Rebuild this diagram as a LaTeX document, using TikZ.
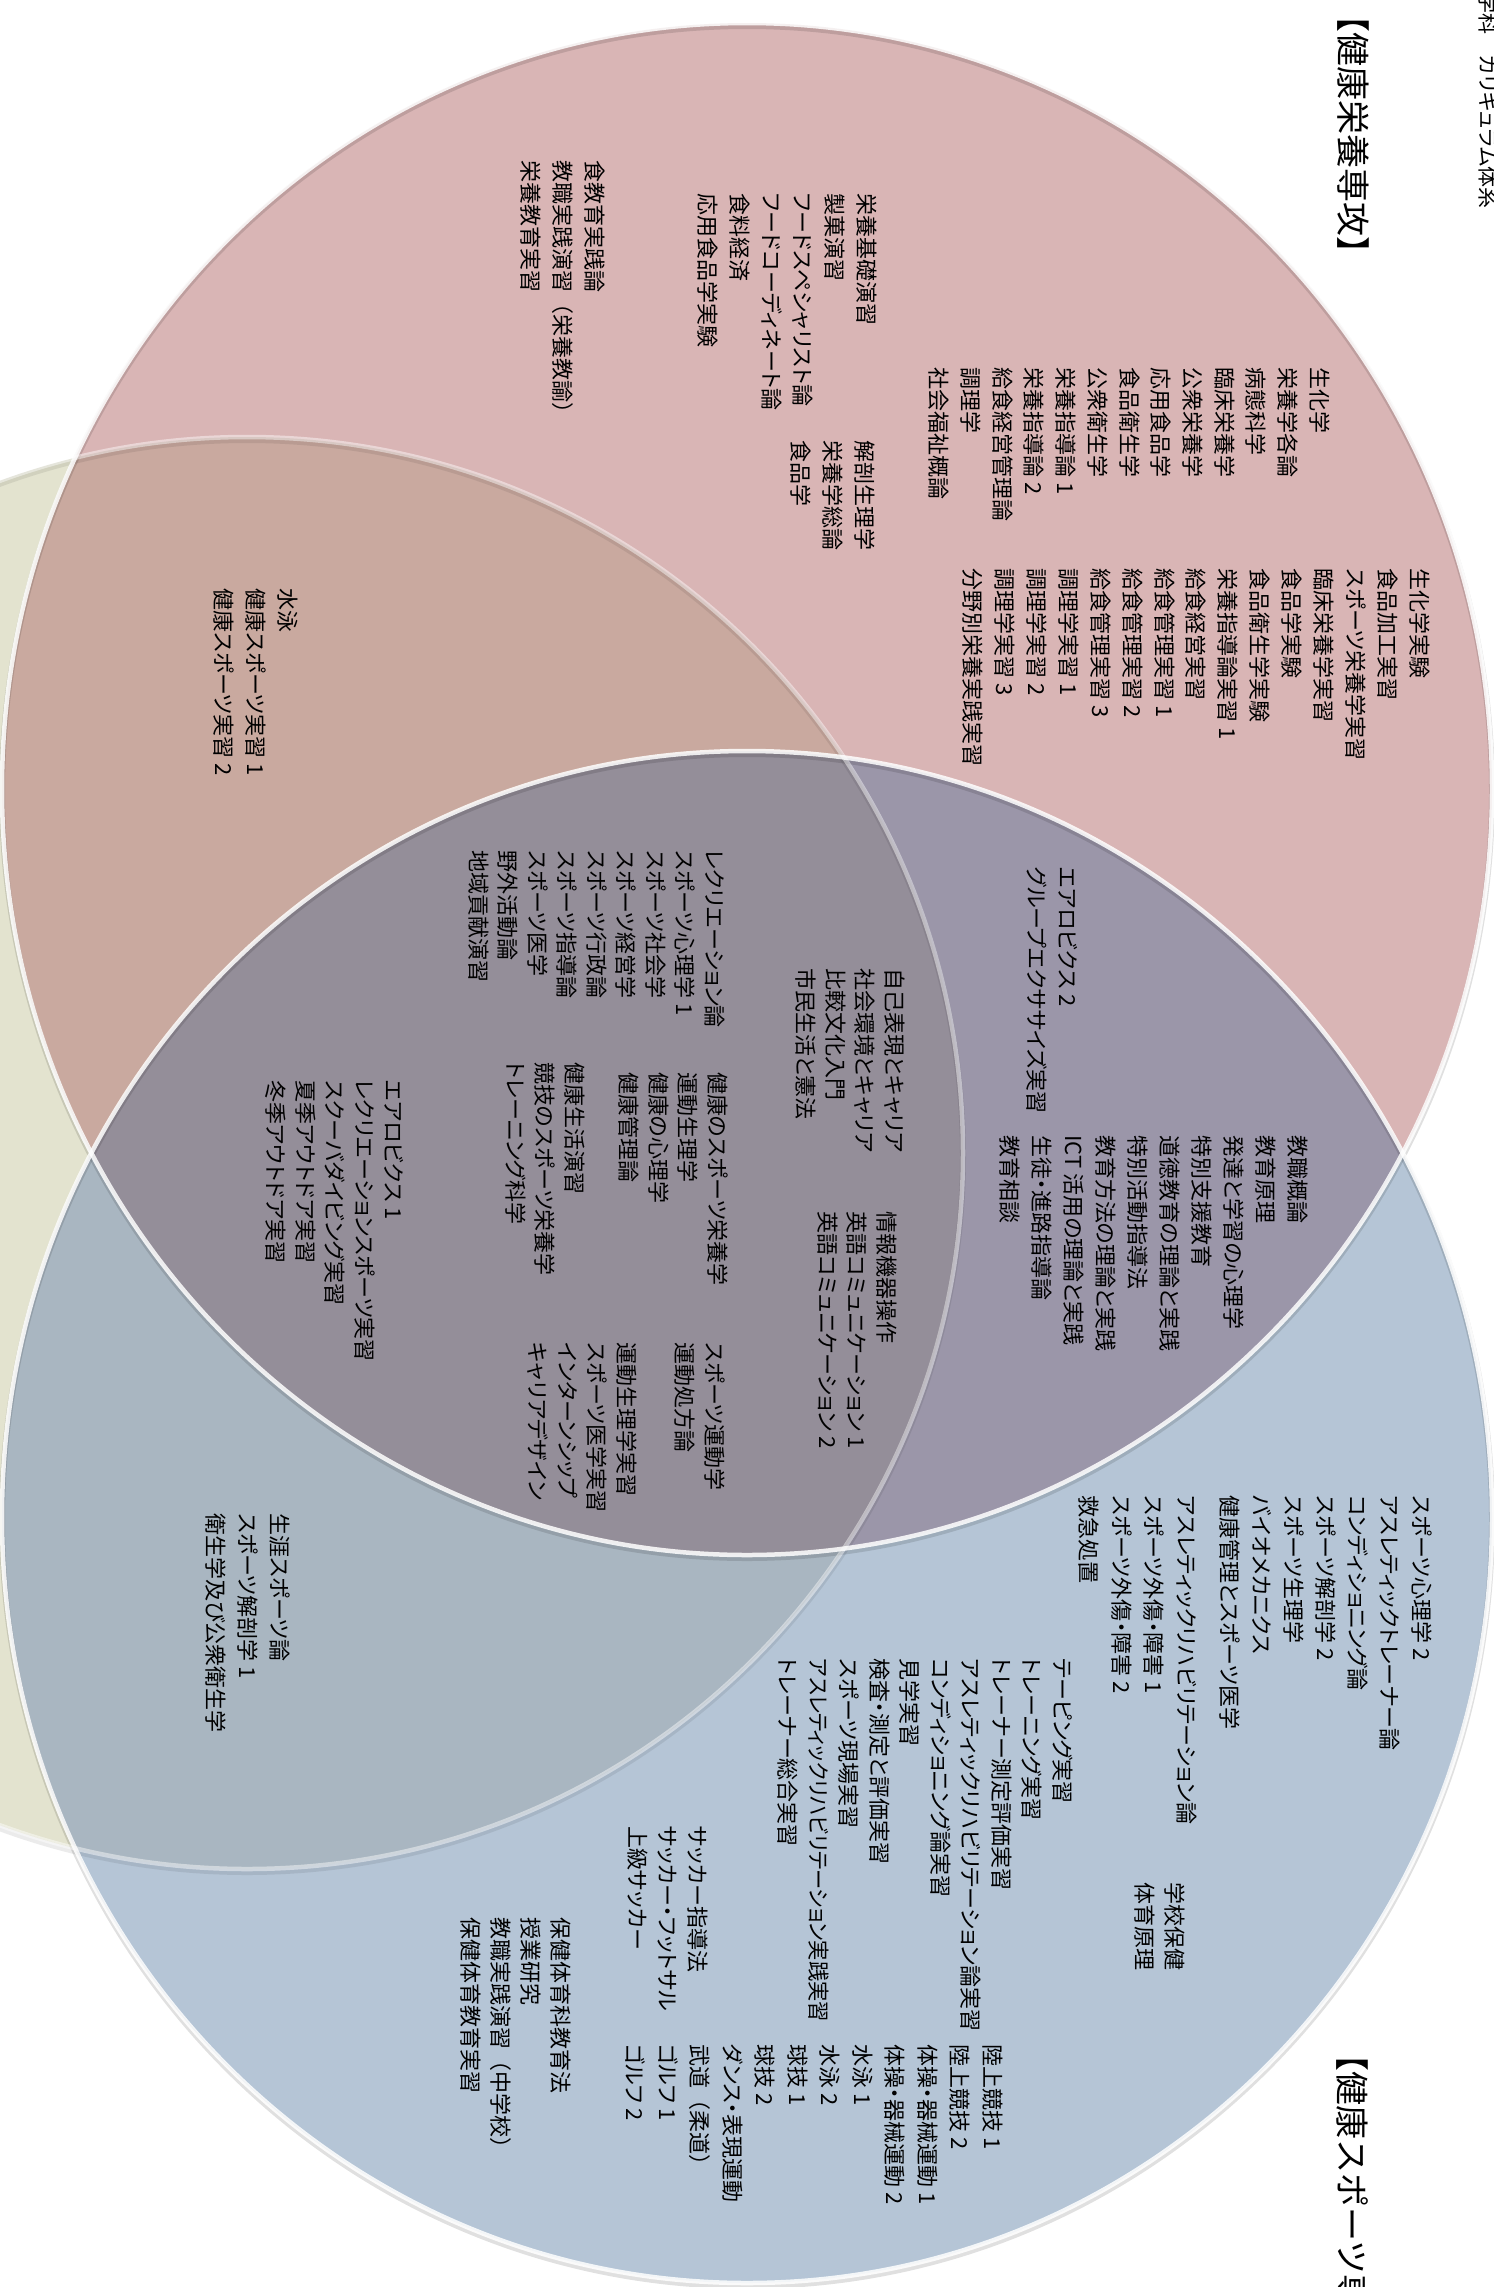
\documentclass[tikz,border=0pt]{standalone}
\usepackage{fontspec}
\setmainfont{Noto Sans CJK JP}[RawFeature=+palt]
\newfontfamily\jpwide{Noto Sans CJK JP}
\newfontfamily\jpnarrow{Noto Sans CJK JP}[RawFeature=+palt, FakeStretch=0.92]
\definecolor{olv}{HTML}{E3E3CF}
\definecolor{pnk}{HTML}{D9B5B5}
\definecolor{blu}{HTML}{B5C5D6}
\definecolor{pnkolv}{HTML}{C9A99F}
\definecolor{bluolv}{HTML}{A9B6C1}
\definecolor{pnkblu}{HTML}{9B96A9}
\definecolor{allthree}{HTML}{948E99}
\newcommand{\widep}[1]{{\jpwide #1}}

\begin{document}
\begin{tikzpicture}[x=1pt, y=-1pt,
	lbl/.style={rotate=-90, anchor=north west, inner sep=0pt, align=left, font=\fontsize{22}{#1}\selectfont},
	lbl/.default=31.7,
	ttl/.style={rotate=-90, anchor=north west, inner sep=0pt, font=\jpwide\fontsize{34}{40}\selectfont},
	rim/.style={draw=white, line width=4.5pt, draw opacity=0.85},
	rimshadow/.style={draw=black, line width=6pt, draw opacity=0.12}]

	\useasboundingbox (0,0) rectangle (1494,2287);

	% circles
	\fill[olv] (247,1153) circle [radius=716];
	\fill[pnk] (747,789) ellipse [x radius=745, y radius=766];
	\fill[blu] (747,1517) ellipse [x radius=745, y radius=766];
	\begin{scope}
		\clip (747,1517) ellipse [x radius=745, y radius=766];
		\fill[bluolv] (247,1153) circle [radius=716];
	\end{scope}
	\begin{scope}
		\clip (747,789) ellipse [x radius=745, y radius=766];
		\fill[pnkolv] (247,1153) circle [radius=716];
		\fill[pnkblu] (747,1517) ellipse [x radius=745, y radius=766];
		\clip (747,1517) ellipse [x radius=745, y radius=766];
		\fill[allthree] (247,1153) circle [radius=716];
	\end{scope}

	\draw[rimshadow, yshift=-3pt, draw opacity=0.08] (247,1153) circle [radius=716];
	\draw[rimshadow, yshift=-3pt] (747,789) ellipse [x radius=745, y radius=766];
	\draw[rimshadow, yshift=-3pt] (747,1517) ellipse [x radius=745, y radius=766];
	\draw[rim, draw opacity=0.45] (247,1153) circle [radius=716];
	\draw[rim] (747,789) ellipse [x radius=745, y radius=766];
	\draw[rim] (747,1517) ellipse [x radius=745, y radius=766];

	% titles
	\node[ttl] (ttlEiyo) at (1369,-2) {【健康栄養専攻】};
	\node[ttl] (ttlSports) at (1369,2037) {【健康スポーツ専攻】};
	\node[rotate=-90, anchor=north west, inner sep=0pt, font=\fontsize{21}{25}\selectfont] (hdr) at (1498,-8) {学科　カリキュラム体系};

	% nutrition circle
	\node[lbl=31.9] (eiyoJisshu) at (1430,568) {生化学実験\\食品加工実習\\スポーツ栄養学実習\\臨床栄養学実習\\食品学実験\\食品衛生学実験\\栄養指導論実習 1\\給食経営実習\\給食管理実習 1\\給食管理実習 2\\給食管理実習 3\\調理学実習 1\\調理学実習 2\\調理学実習 3\\分野別栄養実践実習};
	\node[lbl] (eiyoKougi) at (1330,367) {生化学\\栄養学各論\\病態科学\\臨床栄養学\\公衆栄養学\\応用食品学\\食品衛生学\\公衆衛生学\\栄養指導論 1\\栄養指導論 2\\給食経営管理論\\調理学\\社会福祉概論};
	\node[lbl] (eiyoKiso) at (877,193) {栄養基礎演習\\製菓演習\\フードスペシャリスト論\\フードコーディネート論\\食料経済\\応用食品学実験};
	\node[lbl] (eiyoSoron) at (875,440) {解剖生理学\\栄養学総論\\食品学};
	\node[lbl] (eiyoKyoshoku) at (605,160) {食教育実践論\\教職実践演習\widep{（}栄養教諭\widep{）}\\栄養教育実習};
	\node[lbl] (pnkOlv) at (298,588) {水泳\\健康スポーツ実習 1\\健康スポーツ実習 2};

	% common part
	\node[lbl=31] (aero) at (1078,867) {エアロビクス 2\\グループエクササイズ実習};
	\node[lbl=32] (kyoshoku) at (1308,1135) {教職概論\\教育原理\\発達と学習の心理学\\特別支援教育\\道徳教育の理論と実践\\特別活動指導法\\教育方法の理論と実践\\ICT 活用の理論と実践\\生徒・進路指導論\\教育相談};
	\node[lbl=29.5] (kyoyo) at (905,968) {自己表現とキャリア\\社会環境とキャリア\\比較文化入門\\市民生活と憲法};
	\node[lbl=29.5] (recre) at (725,850) {レクリエーション論\\スポーツ心理学 1\\スポーツ社会学\\スポーツ経営学\\スポーツ行政論\\スポーツ指導論\\スポーツ医学\\野外活動論\\地域貢献演習};
	\node[lbl=29.5] (kenko) at (728,1072) {健康のスポーツ栄養学\\運動生理学\\健康の心理学\\健康管理論};
	\node[lbl=29.5] (seikatsu) at (585,1062) {健康生活演習\\競技のスポーツ栄養学\\トレーニング科学};
	\node[lbl=29.5] (johoEigo) at (897,1211) {情報機器操作\\英語コミュニケーション 1\\英語コミュニケーション 2};
	\node[lbl=29.5] (undo) at (725,1342) {スポーツ運動学\\運動処方論};
	\node[lbl=29.5] (career) at (637,1342) {運動生理学実習\\スポーツ医学実習\\インターンシップ\\キャリアデザイン};
	\node[lbl=29.5] (outdoor) at (404,1080) {エアロビクス 1\\レクリエーションスポーツ実習\\スクーバダイビング実習\\夏季アウトドア実習\\冬季アウトドア実習};
	\node[lbl=32] (bluOlv) at (290,1513) {生涯スポーツ論\\スポーツ解剖学 1\\衛生学及び公衆衛生学};

	% sports circle
	\node[lbl=32] (trainer) at (1432,1495) {スポーツ心理学 2\\アスレティックトレーナー論\\コンディショニング論\\スポーツ解剖学 2\\スポーツ生理学\\バイオメカニクス\\健康管理とスポーツ医学};
	\node[lbl=32.5] (rehab) at (1197,1495) {アスレティックリハビリテーション論\\スポーツ外傷・障害 1\\スポーツ外傷・障害 2\\救急処置};
	\node[lbl=30.5] (trainerJisshu) at (1073,1658) {テーピング実習\\トレーニング実習\\トレーナー測定評価実習\\アスレティックリハビリテーション論実習\\コンディショニング論実習\\見学実習\\検査・測定と評価実習\\スポーツ現場実習\\{\jpnarrow アスレティックリハビリテーション実践実習}\\トレーナー総合実習};
	\node[lbl=30] (hoken) at (1185,1882) {学校保健\\体育原理};
	\node[lbl=30] (soccer) at (708,1826) {サッカー指導法\\サッカー・フットサル\\上級サッカー};
	\node[lbl=30] (hotai) at (571,1917) {保健体育科教育法\\授業研究\\教職実践演習\widep{（}中学校\widep{）}\\保健体育教育実習};
	\node[lbl=32.5] (jitsugi) at (1003,2044) {陸上競技 1\\陸上競技 2\\体操・器械運動 1\\体操・器械運動 2\\水泳 1\\水泳 2\\球技 1\\球技 2\\ダンス・表現運動\\武道\widep{（}柔道\widep{）}\\ゴルフ 1\\ゴルフ 2};

\end{tikzpicture}
\end{document}
